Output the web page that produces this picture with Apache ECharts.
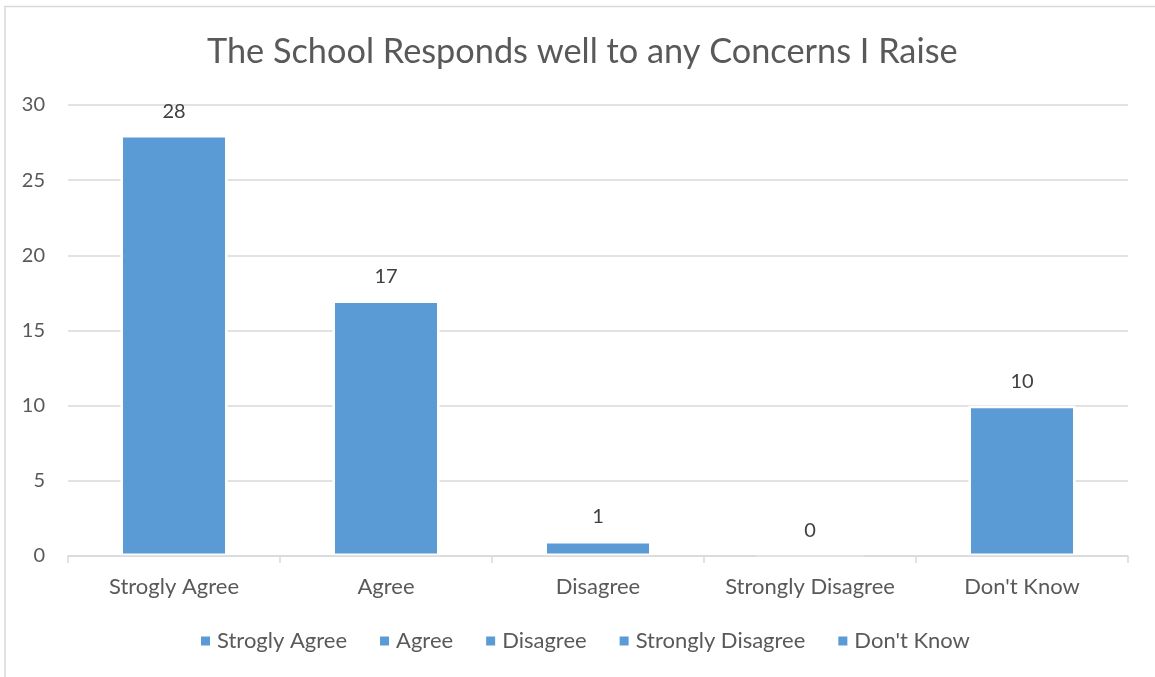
<!DOCTYPE html>
<html>
<head>
<meta charset="utf-8">
<script src="https://cdn.jsdelivr.net/npm/echarts@6/dist/echarts.min.js"></script>
<style>html,body{margin:0;padding:0;background:#fff;}#c{width:1155px;height:677px;}</style>
</head>
<body>
<div id="c"></div>
<script>
const titleText = "The School Responds well to any Concerns I Raise";
const categories = ["Strogly Agree", "Agree", "Disagree", "Strongly Disagree", "Don't Know"];
const values = [28, 17, 1, 0, 10];
const yTicks = { min: 0, max: 30, interval: 5 };

const FONT = 'Lato';
const chart = echarts.init(document.getElementById('c'));
const series = categories.map((name, i) => ({
  name: name,
  type: 'bar',
  stack: 'all',
  barWidth: '50.5%',
  data: categories.map((c, j) => (j === i ? values[i] : '-')),
  itemStyle: { color: '#5B9BD5', borderColor: '#ffffff', borderWidth: 2.5 },
  label: { show: true, position: 'top', distance: 14, color: '#404040', fontFamily: FONT, fontSize: 20 },
  emphasis: { disabled: true },
  animation: false
}));

chart.setOption({
  animation: false,
  backgroundColor: '#ffffff',
  title: {
    text: titleText, left: 202, top: 30,
    textStyle: { fontFamily: FONT, fontSize: 34.3, fontWeight: 'normal', color: '#595959' }
  },
  legend: {
    bottom: 20, left: 196, icon: 'rect', itemWidth: 9, itemHeight: 9, itemGap: 33,
    data: categories,
    itemStyle: { borderWidth: 0, color: '#5B9BD5' },
    textStyle: { fontFamily: FONT, fontSize: 22, color: '#595959', padding: [0, 0, 0, 2] }
  },
  grid: { left: 68, right: 27, top: 105, bottom: 121 },
  xAxis: {
    type: 'category', data: categories, z: 5,
    axisLine: { lineStyle: { color: '#D9D9D9', width: 1.5 } },
    axisTick: { show: true, interval: 0, length: 7, lineStyle: { color: '#D9D9D9', width: 1.5 } },
    axisLabel: { interval: 0, hideOverlap: false, margin: 20, fontFamily: FONT, fontSize: 22, color: '#595959' }
  },
  yAxis: {
    type: 'value', min: yTicks.min, max: yTicks.max, interval: yTicks.interval,
    axisLine: { show: false }, axisTick: { show: false },
    splitLine: { lineStyle: { color: '#D9D9D9', width: 1.5 } },
    axisLabel: { margin: 23, fontFamily: FONT, fontSize: 20, color: '#595959' }
  },
  graphic: [{
    type: 'rect', silent: true, z: 100,
    shape: { x: 5, y: 6.5, width: 1200, height: 720 },
    style: { fill: 'none', stroke: '#D9D9D9', lineWidth: 1.5 }
  }],
  series: series
});
</script>
</body>
</html>
